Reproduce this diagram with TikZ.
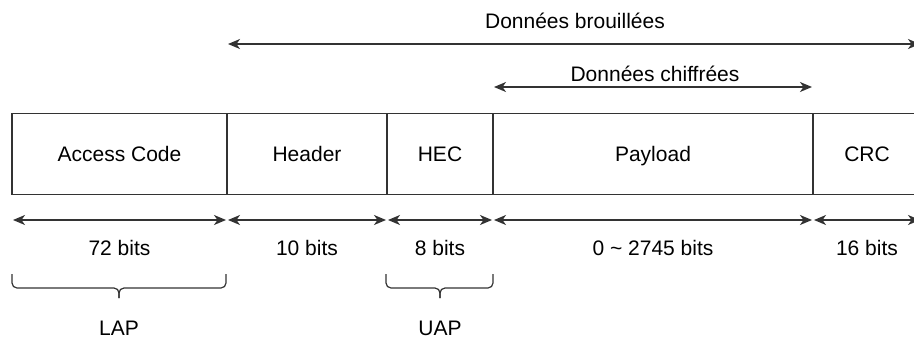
\documentclass[tikz,border=0pt]{standalone}
\usepackage{fontspec}
\setmainfont{Liberation Sans}
\usetikzlibrary{arrows.meta}
\definecolor{ln}{HTML}{333333}
\tikzset{
  cell/.style={draw=ln, line width=1.3pt, minimum height=81pt, inner sep=0pt, outer sep=0pt, text height=15pt, text depth=0pt, font=\fontsize{21}{25}\selectfont},
  lbl/.style={inner sep=0pt, text height=15pt, text depth=0pt, font=\fontsize{21}{25}\selectfont},
  dim/.style={draw=ln, line width=1.3pt, {Stealth[length=12pt,width=10pt,inset=3.5pt]}-{Stealth[length=12pt,width=10pt,inset=3.5pt]}, shorten <=1pt, shorten >=1pt},
  brc/.style={draw=ln, line width=1.2pt, rounded corners=5pt}
}
\begin{document}
\begin{tikzpicture}[x=1pt,y=-1pt]
\useasboundingbox (0,0) rectangle (914,341);
\clip (0,0) rectangle (914,341);
\fill[white] (0,0) rectangle (914,341);
% cells
\node[cell, minimum width=215pt] (ac) at (119.5,154) {Access Code};
\node[cell, minimum width=160pt] (hd) at (307,154) {Header};
\node[cell, minimum width=106pt] (hec) at (440,154) {HEC};
\node[cell, minimum width=320pt] (pl) at (653,154) {Payload};
\node[cell, minimum width=108pt] (crc) at (867,154) {CRC};
% top arrows
\coordinate (t0) at (227,44);
\coordinate (t1) at (921,44);
\coordinate (u0) at (493,87);
\coordinate (u1) at (813,87);
\draw[dim] (t0) -- (t1);
\draw[dim] (u0) -- (u1);
\node[lbl] (brou) at (575,20.5) {Données brouillées};
\node[lbl] (chif) at (655,73.5) {Données chiffrées};
% bottom arrows
\coordinate (a0) at (12,220);
\coordinate (a1) at (227,220);
\coordinate (a2) at (387,220);
\coordinate (a3) at (493,220);
\coordinate (a4) at (813,220);
\coordinate (a5) at (921,220);
\draw[dim] (a0) -- (a1);
\draw[dim] (a1) -- (a2);
\draw[dim] (a2) -- (a3);
\draw[dim] (a3) -- (a4);
\draw[dim] (a4) -- (a5);
\node[lbl] (b72) at (119.5,247.5) {72 bits};
\node[lbl] (b10) at (307,247.5) {10 bits};
\node[lbl] (b8) at (440,247.5) {8 bits};
\node[lbl] (b0) at (653,247.5) {0 \textasciitilde\ 2745 bits};
\node[lbl] (b16) at (867,247.5) {16 bits};
% braces
\coordinate (l0) at (12,274);
\coordinate (l1) at (226,274);
\coordinate (lm) at (119,298);
\draw[brc] (l0) |- (119,288) -- (lm);
\draw[brc] (l1) |- (119,288) -- (lm);
\node[lbl] (lap) at (119,328) {LAP};
\coordinate (m0) at (386,274);
\coordinate (m1) at (493,274);
\coordinate (mm) at (440,298);
\draw[brc] (m0) |- (440,288) -- (mm);
\draw[brc] (m1) |- (440,288) -- (mm);
\node[lbl] (uap) at (440,328) {UAP};
\end{tikzpicture}
\end{document}
